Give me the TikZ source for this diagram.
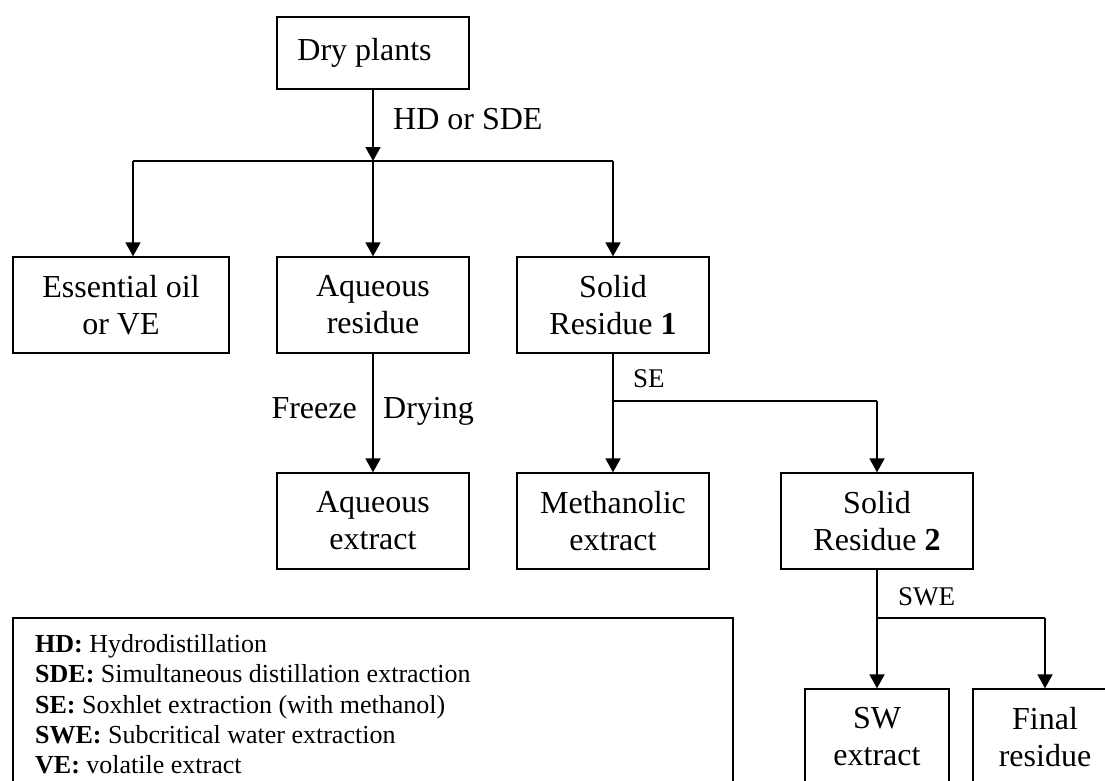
\documentclass[tikz,border=0pt]{standalone}
\usepackage{fontspec}
\setmainfont{Liberation Serif}
\usetikzlibrary{arrows.meta}

\tikzset{
  box/.style={draw, line width=1.4pt, minimum width=192pt, minimum height=96pt,
    inner sep=0pt, align=center, font=\fontsize{32}{37}\selectfont},
  smallbox/.style={box, minimum width=144pt},
  conn/.style={line width=1.8pt},
  arr/.style={conn, -{Triangle[length=14pt,width=15pt]}},
  lbl/.style={inner sep=0pt, font=\fontsize{32}{37}\selectfont},
  slbl/.style={inner sep=0pt, font=\fontsize{27}{31}\selectfont},
  legline/.style={inner sep=0pt, anchor=base west, font=\fontsize{26}{30}\selectfont}
}

\begin{document}
\begin{tikzpicture}[x=1pt,y=-1pt]
\useasboundingbox (0,0) rectangle (1105,780);
\clip (0,0) rectangle (1105,780);

% boxes
\node[box, minimum height=72pt] (dry) at (373,53) {Dry plants\hspace*{17pt}};
\node[box, minimum width=216pt] (eo) at (121,305) {Essential oil\\or VE};
\node[box] (aqr) at (373,305) {Aqueous\\residue};
\node[box] (sr1) at (613,305) {Solid\\Residue \textbf{1}};
\node[box] (aqe) at (373,521) {Aqueous\\extract};
\node[box] (meth) at (613,521) {Methanolic\\extract};
\node[box] (sr2) at (877,521) {Solid\\Residue \textbf{2}};
\node[smallbox] (swx) at (877,737) {SW\\extract};
\node[smallbox] (fin) at (1045,737) {Final\\residue};

% branch points
\coordinate (j0) at (373,161);
\coordinate (jl) at (133,161);
\coordinate (jr) at (613,161);
\coordinate (k0) at (613,401);
\coordinate (kr) at (877,401);
\coordinate (m0) at (877,618);
\coordinate (mr) at (1045,618);

% first stage: HD or SDE
\draw[arr] (dry.south) -- (j0);
\draw[conn] (jl) -- (jr);
\draw[arr] (jl) -- (jl |- eo.north);
\draw[arr] (j0) -- (aqr.north);
\draw[arr] (jr) -- (sr1.north);
\node[lbl, anchor=base west] (hdsde) at (393,129) {HD or SDE};

% freeze drying
\draw[arr] (aqr.south) -- (aqe.north);
\node[lbl, anchor=base east] (frz) at (357,418) {Freeze};
\node[lbl, anchor=base west] (dryg) at (383,418) {Drying};

% Soxhlet extraction
\draw[conn] (sr1.south) -- (k0);
\draw[arr] (k0) -- (meth.north);
\draw[conn] (k0) -- (kr);
\draw[arr] (kr) -- (sr2.north);
\node[slbl, anchor=base west] (se) at (633,387) {SE};

% subcritical water extraction
\draw[conn] (sr2.south) -- (m0);
\draw[arr] (m0) -- (swx.north);
\draw[conn] (m0) -- (mr);
\draw[arr] (mr) -- (fin.north);
\node[slbl, anchor=base west] (swel) at (898,605) {SWE};

% legend
\draw[line width=1.4pt] (13,618) rectangle (733,800);
\node[legline] (l1) at (35,652) {\textbf{HD:} Hydrodistillation};
\node[legline] (l2) at (35,682) {\textbf{SDE:} Simultaneous distillation extraction};
\node[legline] (l3) at (35,713) {\textbf{SE:} Soxhlet extraction (with methanol)};
\node[legline] (l4) at (35,743) {\textbf{SWE:} Subcritical water extraction};
\node[legline] (l5) at (35,773) {\textbf{VE:} volatile extract};
\end{tikzpicture}
\end{document}
